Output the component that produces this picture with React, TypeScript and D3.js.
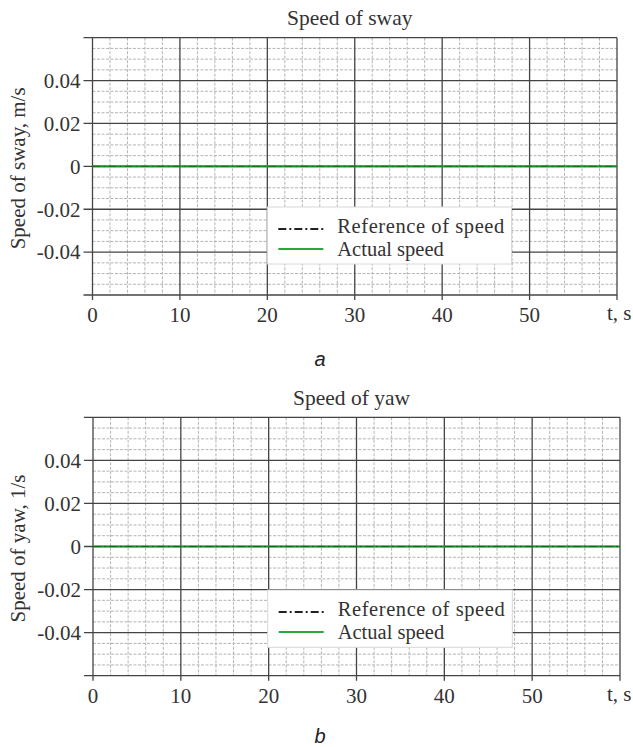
import React from "react";
import * as d3 from "d3";

const timeDomain = [0, 60];
const timeTicks = [0, 10, 20, 30, 40, 50];
const speedTicks = [-0.04, -0.02, 0, 0.02, 0.04];
const speedDomain = [-0.06, 0.06];

const time = [0, 10, 20, 30, 40, 50, 60];
const swayReference = [0, 0, 0, 0, 0, 0, 0];
const swayActual = [0, 0, 0, 0, 0, 0, 0];
const yawReference = [0, 0, 0, 0, 0, 0, 0];
const yawActual = [0, 0, 0, 0, 0, 0, 0];

const legendLabels = ["Reference of speed", "Actual speed"];

const SERIF = "'Liberation Serif', 'Times New Roman', serif";
const SANS = "'Liberation Sans', Arial, sans-serif";

type PanelProps = {
  left: number;
  right: number;
  top: number;
  bottom: number;
  title: string;
  ylabel: string;
  reference: number[];
  actual: number[];
  legend: { x0: number; x1: number; y0: number; y1: number };
  caption: string;
  captionY: number;
};

function Panel(p: PanelProps) {
  const x = d3.scaleLinear().domain(timeDomain).range([p.left, p.right]);
  const y = d3.scaleLinear().domain(speedDomain).range([p.bottom, p.top]);
  const minorX = d3.range(0, 60.001, 2).filter((v) => v % 10 !== 0);
  const minorY = d3.range(-0.06, 0.0601, 0.005).filter(
    (v) => Math.abs(Math.round(v * 1000) % 20) !== 0
  );
  const majorY = d3.range(-0.06, 0.0601, 0.02);
  const line = d3
    .line<number>()
    .x((_, i) => x(time[i]))
    .y((d) => y(d));
  const lg = p.legend;
  const row1 = lg.y0 + 19;
  const row2 = lg.y0 + 42;
  return (
    <g>
      <rect x={p.left} y={p.top} width={p.right - p.left} height={p.bottom - p.top} fill="#fff" />
      {minorX.map((v) => (
        <line key={"mx" + v} x1={x(v)} x2={x(v)} y1={p.top} y2={p.bottom} stroke="#b4b4b4" strokeWidth={1} strokeDasharray="3,1.5" />
      ))}
      {minorY.map((v, i) => (
        <line key={"my" + i} x1={p.left} x2={p.right} y1={y(v)} y2={y(v)} stroke="#b4b4b4" strokeWidth={1} strokeDasharray="3,1.5" />
      ))}
      {timeTicks.concat([60]).map((v) => (
        <line key={"Mx" + v} x1={x(v)} x2={x(v)} y1={p.top} y2={p.bottom + 5} stroke="#444" strokeWidth={1.3} />
      ))}
      {majorY.map((v, i) => (
        <line key={"My" + i} x1={p.left - 9} x2={p.right} y1={y(v)} y2={y(v)} stroke="#444" strokeWidth={1.3} />
      ))}
      <path d={line(p.actual) || ""} fill="none" stroke="#1a9a2a" strokeWidth={2.2} />
      <path d={line(p.reference) || ""} fill="none" stroke="#1a3a1a" strokeWidth={1} strokeOpacity={0.55} strokeDasharray="8,3,2,3" />
      {speedTicks.map((v) => (
        <text key={"yt" + v} x={p.left - 12} y={y(v)} dy="0.35em" textAnchor="end" fontFamily={SERIF} fontSize={21} fill="#333">
          {v === 0 ? "0" : d3.format(".2f")(v).replace("−", "-")}
        </text>
      ))}
      {timeTicks.map((v) => (
        <text key={"xt" + v} x={x(v)} y={p.bottom + 20} dy="0.35em" textAnchor="middle" fontFamily={SERIF} fontSize={21} fill="#333">
          {v}
        </text>
      ))}
      <text x={607} y={p.bottom + 18} dy="0.35em" fontFamily={SERIF} fontSize={21} fill="#333">t, s</text>
      <text x={(p.left + p.right) / 2 - 5} y={p.top - 20} dy="0.35em" textAnchor="middle" fontFamily={SERIF} fontSize={21.5} fill="#333">
        {p.title}
      </text>
      <text transform={`translate(18,${(p.top + p.bottom) / 2 + 2}) rotate(-90)`} dy="0.35em" textAnchor="middle" fontFamily={SERIF} fontSize={21} fill="#333">
        {p.ylabel}
      </text>
      <rect x={lg.x0} y={lg.y0} width={lg.x1 - lg.x0} height={lg.y1 - lg.y0} fill="#fff" stroke="#d8d8d8" strokeWidth={1} />
      <line x1={lg.x0 + 11} x2={lg.x0 + 56} y1={row1 + 3} y2={row1 + 3} stroke="#222" strokeWidth={2} strokeDasharray="8,3,2,3" />
      <line x1={lg.x0 + 11} x2={lg.x0 + 56} y1={row2} y2={row2} stroke="#2aa83a" strokeWidth={2} />
      <text x={lg.x0 + 70} y={row1} dy="0.35em" fontFamily={SERIF} fontSize={20.5} fill="#333" textLength={167} lengthAdjust="spacing">{legendLabels[0]}</text>
      <text x={lg.x0 + 70} y={row2} dy="0.35em" fontFamily={SERIF} fontSize={20.5} fill="#333">{legendLabels[1]}</text>
      <text x={320} y={p.captionY} dy="0.35em" fontFamily={SANS} fontStyle="italic" fontSize={20} fill="#222" textAnchor="middle">
        {p.caption}
      </text>
    </g>
  );
}

export default function App() {
  return (
    <svg width={633} height={747} style={{ position: "absolute", left: 0, top: 0, background: "#fff" }}>
      <rect width={633} height={747} fill="#fff" />
      <Panel
        left={92.5}
        right={617}
        top={37.7}
        bottom={295}
        title="Speed of sway"
        ylabel="Speed of sway, m/s"
        reference={swayReference}
        actual={swayActual}
        legend={{ x0: 267.3, x1: 511.5, y0: 207, y1: 264 }}
        caption="a"
        captionY={359}
      />
      <Panel
        left={93}
        right={620}
        top={417.3}
        bottom={675.7}
        title="Speed of yaw"
        ylabel="Speed of yaw, 1/s"
        reference={yawReference}
        actual={yawActual}
        legend={{ x0: 267.7, x1: 512.3, y0: 590, y1: 647.3 }}
        caption="b"
        captionY={736}
      />
    </svg>
  );
}
